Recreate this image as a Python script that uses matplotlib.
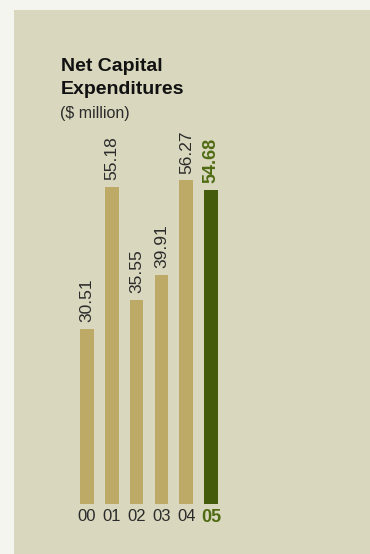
import matplotlib
matplotlib.use("Agg")
import matplotlib.pyplot as plt
from matplotlib.patches import Rectangle

years = ["00", "01", "02", "03", "04", "05"]
capex = [30.51, 55.18, 35.55, 39.91, 56.27, 54.68]

TAN = "#bdaa66"
GREEN = "#445b0c"
GREEN_TEXT = "#4f6b12"
PANEL = "#d9d7be"
PAGE = "#f5f5f0"
TEXT = "#2b2b2b"

plt.rcParams["font.family"] = ["Liberation Sans", "DejaVu Sans"]

fig = plt.figure(figsize=(3.7, 5.54), dpi=100, facecolor=PAGE)
W, H = 370, 554

# panel background
fig.add_artist(Rectangle((14 / W, 0), 1 - 14 / W, 1 - 10 / H,
                         transform=fig.transFigure, facecolor=PANEL,
                         edgecolor="none", zorder=0))

# title block
fig.text(61 / W, 1 - 71 / H, "Net Capital", fontsize=14, fontweight="bold",
         color="#111111", ha="left", va="baseline")
fig.text(61 / W, 1 - 94 / H, "Expenditures", fontsize=14, fontweight="bold",
         color="#111111", ha="left", va="baseline")
fig.text(60 / W, 1 - 118 / H, "($ million)", fontsize=11.5,
         color=TEXT, ha="left", va="baseline")

# axes: bars from x=80 to 218 px, baseline at y=504 px, 5.75 px per unit
ax = fig.add_axes([80 / W, 1 - 504 / H, 138 / W, 345 / H])
ax.set_facecolor("none")
ax.set_xlim(-0.275, len(years) - 1 + 0.275)
ax.set_ylim(0, 60)

x = range(len(years))
colors = [TAN] * (len(years) - 1) + [GREEN]
ax.bar(x, capex, width=0.55, color=colors, edgecolor="none")

for i, v in enumerate(capex):
    last = i == len(capex) - 1
    ax.annotate(f"{v:.2f}", (i, v), xytext=(0, 4.5), textcoords="offset points",
                rotation=90, ha="center", va="bottom",
                fontsize=13 if last else 12.5,
                color=GREEN_TEXT if last else TEXT,
                fontweight="bold" if last else "normal")

ax.set_xticks(list(x))
ax.set_xticklabels(years, fontsize=12, color=TEXT)
lbl = ax.get_xticklabels()[-1]
lbl.set_fontweight("bold")
lbl.set_color(GREEN_TEXT)
lbl.set_fontsize(13)
ax.tick_params(axis="x", length=0, pad=3.5)
ax.set_yticks([])
for s in ax.spines.values():
    s.set_visible(False)

fig.savefig("out.png", dpi=100, facecolor=PAGE)
